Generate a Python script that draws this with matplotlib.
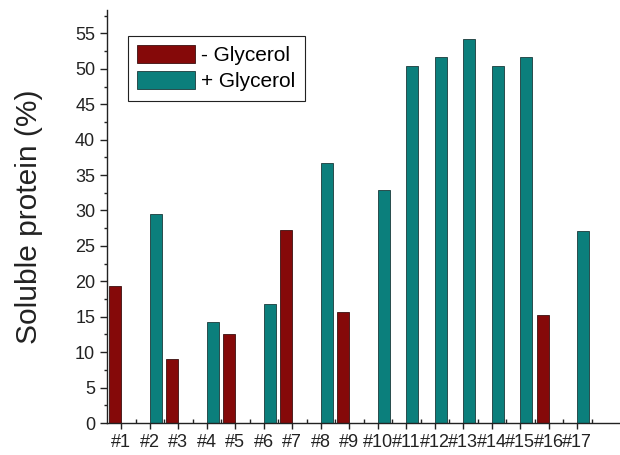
import matplotlib
matplotlib.use("Agg")
import matplotlib.pyplot as plt
from matplotlib.ticker import MultipleLocator, FixedLocator
import numpy as np

plt.rcParams['font.family'] = ['Liberation Sans', 'DejaVu Sans']

categories = ['#1', '#2', '#3', '#4', '#5', '#6', '#7', '#8', '#9', '#10',
              '#11', '#12', '#13', '#14', '#15', '#16', '#17']
minus_glycerol = [19.3, 0, 9.0, 0, 12.6, 0, 27.3, 0, 15.6, 0,
                  0, 0, 0, 0, 0, 15.3, 0]
plus_glycerol = [0, 29.5, 0, 14.3, 0, 16.8, 0, 36.7, 0, 32.9,
                 50.4, 51.7, 54.2, 50.4, 51.7, 0, 27.1]

red = '#850909'
teal = '#0b7f7c'
ink = '#222222'

fig = plt.figure(figsize=(6.2, 4.55), dpi=100)
ax = fig.add_axes([107/620, 1-423/455, 1-107/620, (423-10)/455])

x = np.arange(1, len(categories) + 1)
w = 0.42
m = np.array(minus_glycerol) > 0
p = np.array(plus_glycerol) > 0
ax.bar(x[m] - w/2, np.array(minus_glycerol)[m], width=w, color=red,
       edgecolor='#3a1010', linewidth=0.6, label='- Glycerol')
ax.bar(x[p] + w/2, np.array(plus_glycerol)[p], width=w, color=teal,
       edgecolor='#1a3a3a', linewidth=0.6, label='+ Glycerol')

ax.set_xlim(0.5, 18.5)
ax.set_ylim(0, 58.3)
ax.set_xticks(x)
ax.set_xticklabels(categories)
ax.xaxis.set_minor_locator(FixedLocator(x + 0.5))
ax.yaxis.set_major_locator(MultipleLocator(5))
ax.yaxis.set_minor_locator(MultipleLocator(2.5))

for s in ['top', 'right']:
    ax.spines[s].set_visible(False)
for s in ['left', 'bottom']:
    ax.spines[s].set_linewidth(1.0)
    ax.spines[s].set_color(ink)

ax.tick_params(axis='x', which='major', direction='out', length=4.5, width=1,
               labelsize=13, pad=3.5, colors=ink)
ax.tick_params(axis='x', which='minor', direction='in', length=3, width=1,
               colors=ink)
ax.tick_params(axis='y', which='major', direction='out', length=5, width=1,
               labelsize=13, pad=3.5, colors=ink)
ax.tick_params(axis='y', which='minor', direction='out', length=2.5, width=1,
               colors=ink)

ax.set_ylabel('Soluble protein (%)', fontsize=21.5, labelpad=23, color=ink)

leg = ax.legend(loc='upper left', bbox_to_anchor=(21/513, (423-36)/413),
                fontsize=15, handlelength=2.75, handleheight=0.9,
                handletextpad=0.3, labelspacing=0.3, borderpad=0.45,
                fancybox=False, framealpha=1, edgecolor=ink, borderaxespad=0)
leg.get_frame().set_linewidth(0.8)

fig.savefig('out.png', dpi=100)
